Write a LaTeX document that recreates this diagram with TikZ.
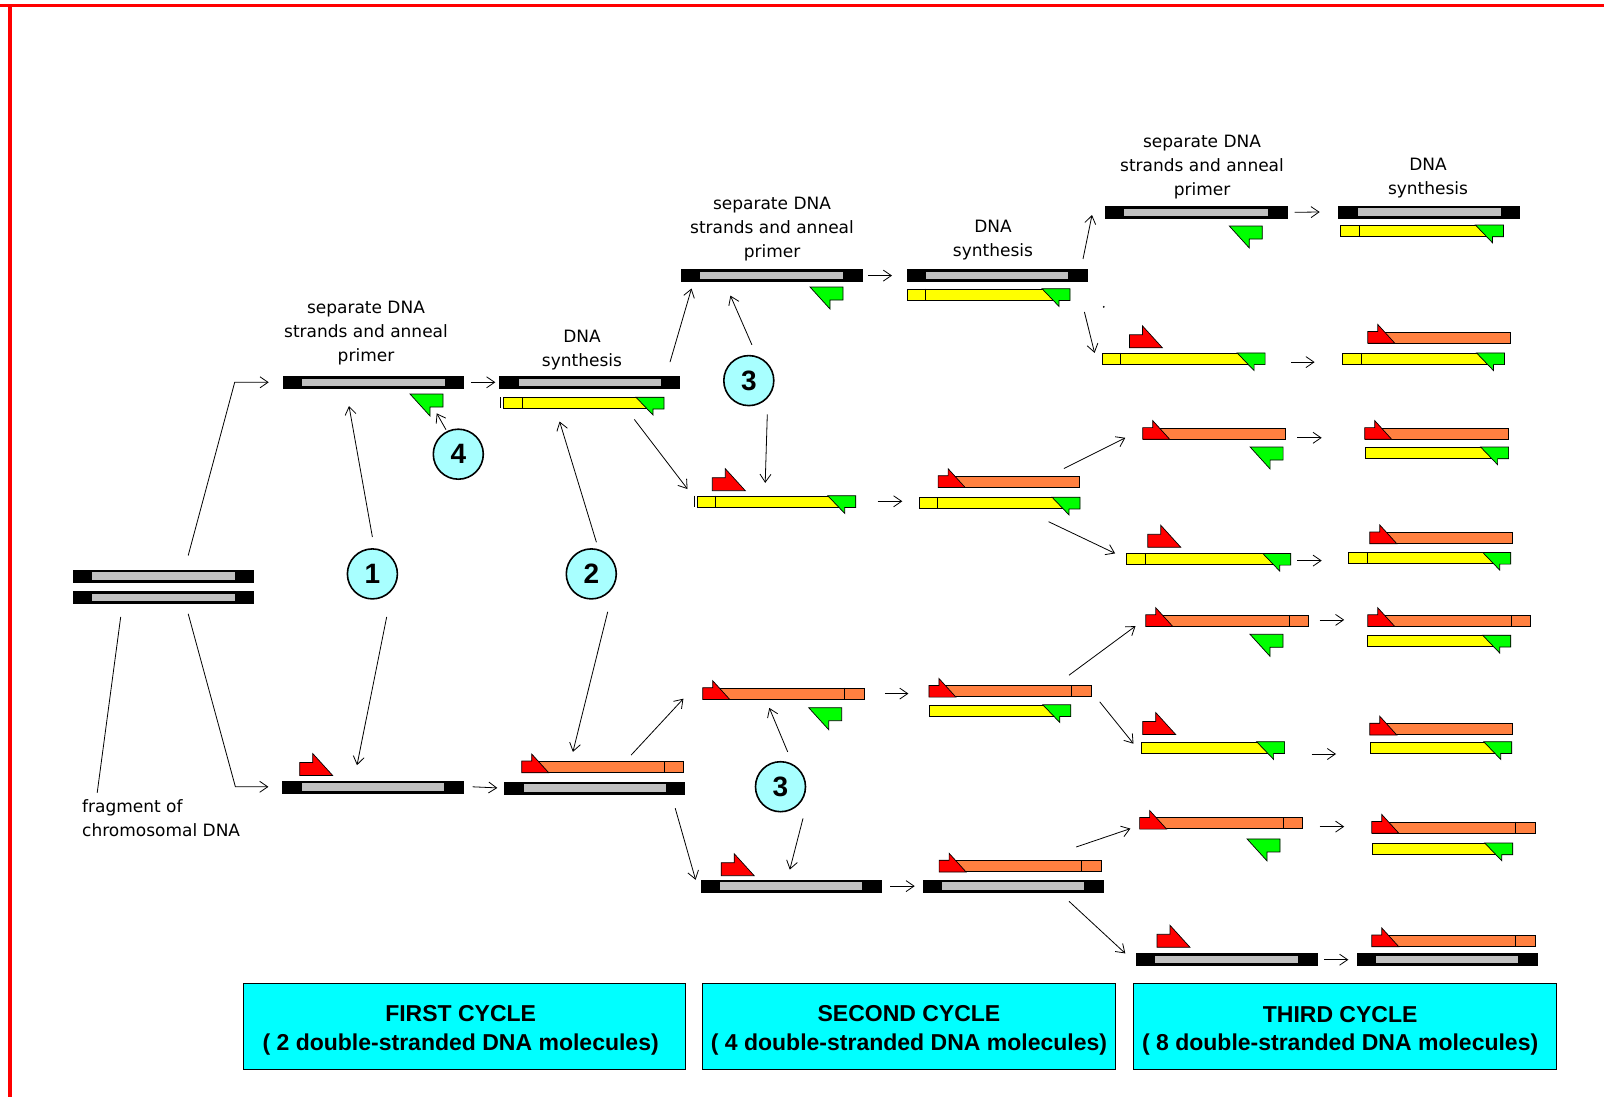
\documentclass[tikz,border=0pt]{standalone}
\usepackage{fontspec}
\setmainfont{DejaVu Sans}
\newfontfamily\boxfont{Liberation Sans}
\usetikzlibrary{arrows.meta}
\definecolor{tgray}{HTML}{C0C0C0}
\definecolor{pyellow}{HTML}{FFFF00}
\definecolor{porange}{HTML}{FF8040}
\definecolor{pred}{HTML}{FF0000}
\definecolor{pgreen}{HTML}{00FF00}
\definecolor{ccyan}{HTML}{00FFFF}
\definecolor{lcyan}{HTML}{A8FFFF}
\newcommand\Tm[4]{\node[tmpl, minimum width=#4pt] (#1) at (#2,#3) {};}
\newcommand\Ys[4]{\node[ystr, minimum width=#4pt] (#1) at (#2,#3) {};
  \filldraw[prim, fill=pgreen] ([xshift=-28pt]#1.north east) -- (#1.north east) -- (#1.south east) -- ([xshift=-11pt]#1.south east) -- ([xshift=-11pt,yshift=-6pt]#1.south east) -- cycle;}
\newcommand\YsL[4]{\Ys{#1}{#2}{#3}{#4}\draw[prim] ([xshift=19pt]#1.north west) -- ([xshift=19pt]#1.south west);}
\newcommand\Os[4]{\node[ostr, minimum width=#4pt] (#1) at (#2,#3) {};
  \filldraw[prim, fill=pred] ([xshift=27pt]#1.south west) -- (#1.south west) -- (#1.north west) -- ([xshift=10pt]#1.north west) -- ([xshift=10pt,yshift=7pt]#1.north west) -- cycle;}
\newcommand\OsL[4]{\Os{#1}{#2}{#3}{#4}\draw[prim] ([xshift=-20pt]#1.north east) -- ([xshift=-20pt]#1.south east);}
\newcommand\Gp[3]{\coordinate (#1) at (#2,#3); \filldraw[prim, fill=pgreen] (#1) -- ++(33,0) -- ++(0,13) -- ++(-13,0) -- ++(0,9) -- cycle;}
\newcommand\Rp[3]{\coordinate (#1) at (#2,#3); \filldraw[prim, fill=pred] (#1) -- ++(33,0) -- ++(-20,-22) -- ++(0,9) -- ++(-13,0) -- cycle;}
\newcommand\Ar[4]{\coordinate (#1s) at (#2); \coordinate (#1e) at (#3); \draw[arr] (#1s) -- (#1e);}
\begin{document}
\begin{tikzpicture}[x=1pt,y=-1pt,
  tmpl/.style={rectangle, draw=black, fill=black, line width=0.6pt, inner sep=0pt, minimum height=12pt, anchor=north west,
    path picture={\fill[tgray] ([xshift=19pt,yshift=-2.3pt]path picture bounding box.north west) rectangle ([xshift=-19pt,yshift=2.3pt]path picture bounding box.south east);}},
  ystr/.style={rectangle, draw=black, fill=pyellow, line width=0.7pt, inner sep=0pt, minimum height=11pt, anchor=north west},
  ostr/.style={rectangle, draw=black, fill=porange, line width=0.7pt, inner sep=0pt, minimum height=11pt, anchor=north west},
  prim/.style={draw=black, line width=0.7pt},
  arr/.style={draw=black, line width=0.8pt, -{Straight Barb[length=8pt,width=11pt]}},
  num/.style={circle, draw=black, fill=lcyan, line width=1.6pt, minimum size=50pt, inner sep=0pt, font=\boxfont\bfseries\fontsize{28}{28}\selectfont},
  lbl/.style={font=\fontsize{17}{24}\selectfont, align=center, inner sep=0pt, anchor=north},
  cyclebox/.style={rectangle, draw=black, fill=ccyan, line width=1pt, inner sep=0pt, anchor=north west},
  cycletext/.style={inner sep=0pt, align=center, font=\boxfont\bfseries\fontsize{23}{28.6}\selectfont}
]
\useasboundingbox (0,0) rectangle (1604,1097);
\fill[white] (0,0) rectangle (1604,1097);
\fill[pred] (0,4) rectangle (1604,7.5);
\fill[pred] (8,4) rectangle (12,1097);

% original
\Tm{o1}{72.7}{569.5}{180.6}
\Tm{o2}{72.7}{591}{180.6}
\node[lbl, align=left, anchor=north west] (frag) at (82,799) {fragment of\\chromosomal DNA};
\coordinate (fS) at (120.7,616.9); \coordinate (fE) at (97.2,792.8);
\draw[line width=0.8pt] (fS) -- (fE);

% column 1
\node[lbl] (t1) at (366,301) {separate DNA\\strands and anneal\\primer};
\Tm{T1}{282.7}{376}{180.6}
\Gp{G1}{410}{394}
\Tm{B1}{282.4}{780.5}{180.6}
\Rp{R1}{299.7}{775.5}
\coordinate (oA) at (188.2,555.5); \draw[arr] (oA) -- ([xshift=-48pt]T1.west) -- ([xshift=-14pt]T1.west);
\coordinate (oB) at (188.2,613.8); \draw[arr] (oB) -- ([xshift=-47pt]B1.west) -- ([xshift=-14pt]B1.west);

% column 2
\node[lbl] (t2) at (582,330) {DNA\\synthesis};
\Tm{T2}{499.3}{376}{180}
\YsL{Y2}{503}{397.3}{160.3}
\draw[prim] (500.5,397.3) -- (500.5,408.3);
\OsL{O2}{521.7}{761}{161.7}
\Tm{B2}{504.3}{781.6}{180}
\draw[arr] ([xshift=7pt]T1.east) -- ([xshift=-4pt]T2.west);
\draw[arr] ([xshift=9pt]B1.east) -- ([xshift=-7pt]B2.west);

% column 3
\node[lbl] (t3) at (772,197) {separate DNA\\strands and anneal\\primer};
\Tm{T3}{680.7}{269.3}{181}
\Gp{G3}{810}{287}
\Rp{R3a}{712.3}{490.7}
\YsL{Y3a}{696.7}{495.7}{158.3}
\draw[prim] (694,495.7) -- (694,506.7);
\OsL{O3b}{702.7}{687.7}{161.3}
\Gp{G3b}{808.7}{707.7}
\Rp{R3c}{721.2}{875.7}
\Tm{B3}{700.8}{879.8}{180}
\Ar{a2u}{670,362.1}{691.5,288.5}{}
\Ar{a2d}{634.3,419.4}{687.5,489}{}
\Ar{a2bu}{631.2,755}{683.4,698.7}{}
\Ar{a2bd}{675.2,808.2}{695.6,879.8}{}

% column 4
\node[lbl] (t4) at (993,220) {DNA\\synthesis};
\Tm{T4}{906.7}{269.3}{180}
\YsL{Y4}{906.7}{288.7}{162.6}
\fill (1103.8,306.9) circle (1pt);
\Os{O4a}{938.1}{475.7}{141.2}
\YsL{Y4a}{918.7}{497.2}{160.6}
\OsL{O4b}{928.9}{685.4}{161.6}
\Ys{Y4b}{928.9}{704.8}{141.2}
\OsL{O4c}{939.1}{860.3}{161.6}
\Tm{B4c}{922.7}{879.8}{180}
\draw[arr] ([xshift=6pt]T3.east) -- ([xshift=-14.7pt]T4.west);
\Ar{h3a}{877.7,501.3}{902.3,501.3}{}
\Ar{h3b}{884.9,693.6}{908.4,693.6}{}
\draw[arr] ([xshift=9pt]B3.east) -- ([xshift=-8pt]B4c.west);

% column 5
\node[lbl] (t5) at (1202,134.5) {separate DNA\\strands and anneal\\primer};
\Tm{T5}{1105}{206}{181.7}
\Gp{G5}{1229.3}{226}
\Rp{R5b}{1129.4}{347.8}
\YsL{Y5b}{1101.8}{352.9}{162.6}
\Os{O5c}{1142.7}{427.6}{142.2}
\Gp{G5c}{1250.1}{447}
\Rp{R5d}{1147.8}{547.3}
\YsL{Y5d}{1126.3}{553.4}{163.7}
\OsL{O5e}{1145.8}{614.8}{162.6}
\Gp{G5e}{1250}{634.3}
\Rp{R5f}{1142.7}{734.5}
\Ys{Y5f}{1140.6}{741.7}{143.3}
\OsL{O5g}{1139.6}{817.4}{162.7}
\Gp{G5g}{1247}{838.9}
\Rp{R5h}{1157}{947.3}
\Tm{B5h}{1135.5}{953.4}{181}
\Ar{a4u}{1083,259}{1092,215}{}
\Ar{a4d}{1084.4,312}{1094.6,352.9}{}
\Ar{a4au}{1063.9,468.5}{1125.3,437.8}{}
\Ar{a4ad}{1048.6,521.7}{1115.1,553.4}{}
\Ar{a4bu}{1069,675.2}{1135.5,626.1}{}
\Ar{a4bd}{1099.7,701.8}{1133.5,743.7}{}
\Ar{a4cu}{1076.2,847}{1130.4,828.6}{}
\Ar{a4cd}{1069,901.3}{1125.3,953.4}{}

% column 6
\node[lbl] (t6) at (1428,158) {DNA\\synthesis};
\Tm{T6}{1338.3}{205.7}{181}
\YsL{Y6a}{1340}{225}{162.7}
\Os{O6b}{1367.8}{331.5}{142.2}
\YsL{Y6b}{1342.2}{352.9}{161.6}
\Os{O6c}{1364.7}{427.6}{143.2}
\Ys{Y6c}{1364.7}{447}{143.2}
\Os{O6d}{1369.8}{532}{142.2}
\YsL{Y6d}{1348.3}{552.4}{161.7}
\OsL{O6e}{1367.8}{614.8}{162.6}
\Ys{Y6e}{1366.7}{635.3}{143.3}
\Os{O6f}{1369.8}{723.3}{142.2}
\Ys{Y6f}{1369.8}{741.7}{141.2}
\OsL{O6g}{1371.8}{821.5}{162.7}
\Ys{Y6g}{1371.8}{843}{140.2}
\OsL{O6h}{1371.8}{935}{162.7}
\Tm{B6h}{1356.5}{953.4}{180}
\draw[arr] ([xshift=7.4pt]T5.east) -- ([xshift=-18.6pt]T6.west);
\Ar{h5b}{1291,362.1}{1314.6,362.1}{}
\Ar{h5c}{1297.2,437.8}{1321.7,437.8}{}
\Ar{h5d}{1297.2,560.6}{1321.7,560.6}{}
\Ar{h5e}{1319.7,619.9}{1344.2,619.9}{}
\Ar{h5f}{1311.5,754}{1336,754}{}
\Ar{h5g}{1319.7,826.6}{1344.2,826.6}{}
\draw[arr] ([xshift=7.3pt]B5h.east) -- ([xshift=-8.2pt]B6h.west);

% numbered circles
\node[num] (c1) at (372.4,573.9) {1};
\node[num] (c2) at (591.3,573.9) {2};
\node[num] (c3a) at (748.8,380.6) {3};
\node[num] (c3b) at (780.5,786.7) {3};
\node[num] (c4) at (458.3,454.2) {4};
\Ar{c1u}{372.4,537}{349,406}{}
\Ar{c1d}{386.7,616.9}{357,765.2}{}
\Ar{c2u}{596.4,542.2}{559.6,421.5}{}
\Ar{c2d}{607.7,611.8}{572.9,751.9}{}
\Ar{c3au}{751.9,344.8}{730.4,295.6}{}
\Ar{c3ad}{767.3,414.3}{765.2,482.9}{}
\Ar{c3bu}{787.7,751.9}{769.3,707.9}{}
\Ar{c3bd}{803,818.4}{789.8,869.6}{}
\Ar{c4u}{446,429.7}{436.7,413.3}{}

% cycle boxes
\node[cyclebox, minimum width=441.7pt, minimum height=86.6pt] (box1) at (243.3,982.7) {};
\node[cyclebox, minimum width=413.3pt, minimum height=86.6pt] (box2) at (701.8,982.7) {};
\node[cyclebox, minimum width=422.7pt, minimum height=86pt] (box3) at (1133.3,983.3) {};
\node[cycletext] (bt1) at ([xshift=-4pt,yshift=-4pt]box1.center) {FIRST CYCLE\\( 2 double-stranded DNA molecules)};
\node[cycletext] (bt2) at ([yshift=-4pt]box2.center) {SECOND CYCLE\\( 4 double-stranded DNA molecules)};
\node[cycletext] (bt3) at ([xshift=-5pt,yshift=-4pt]box3.center) {THIRD CYCLE\\( 8 double-stranded DNA molecules)};
\end{tikzpicture}
\end{document}
